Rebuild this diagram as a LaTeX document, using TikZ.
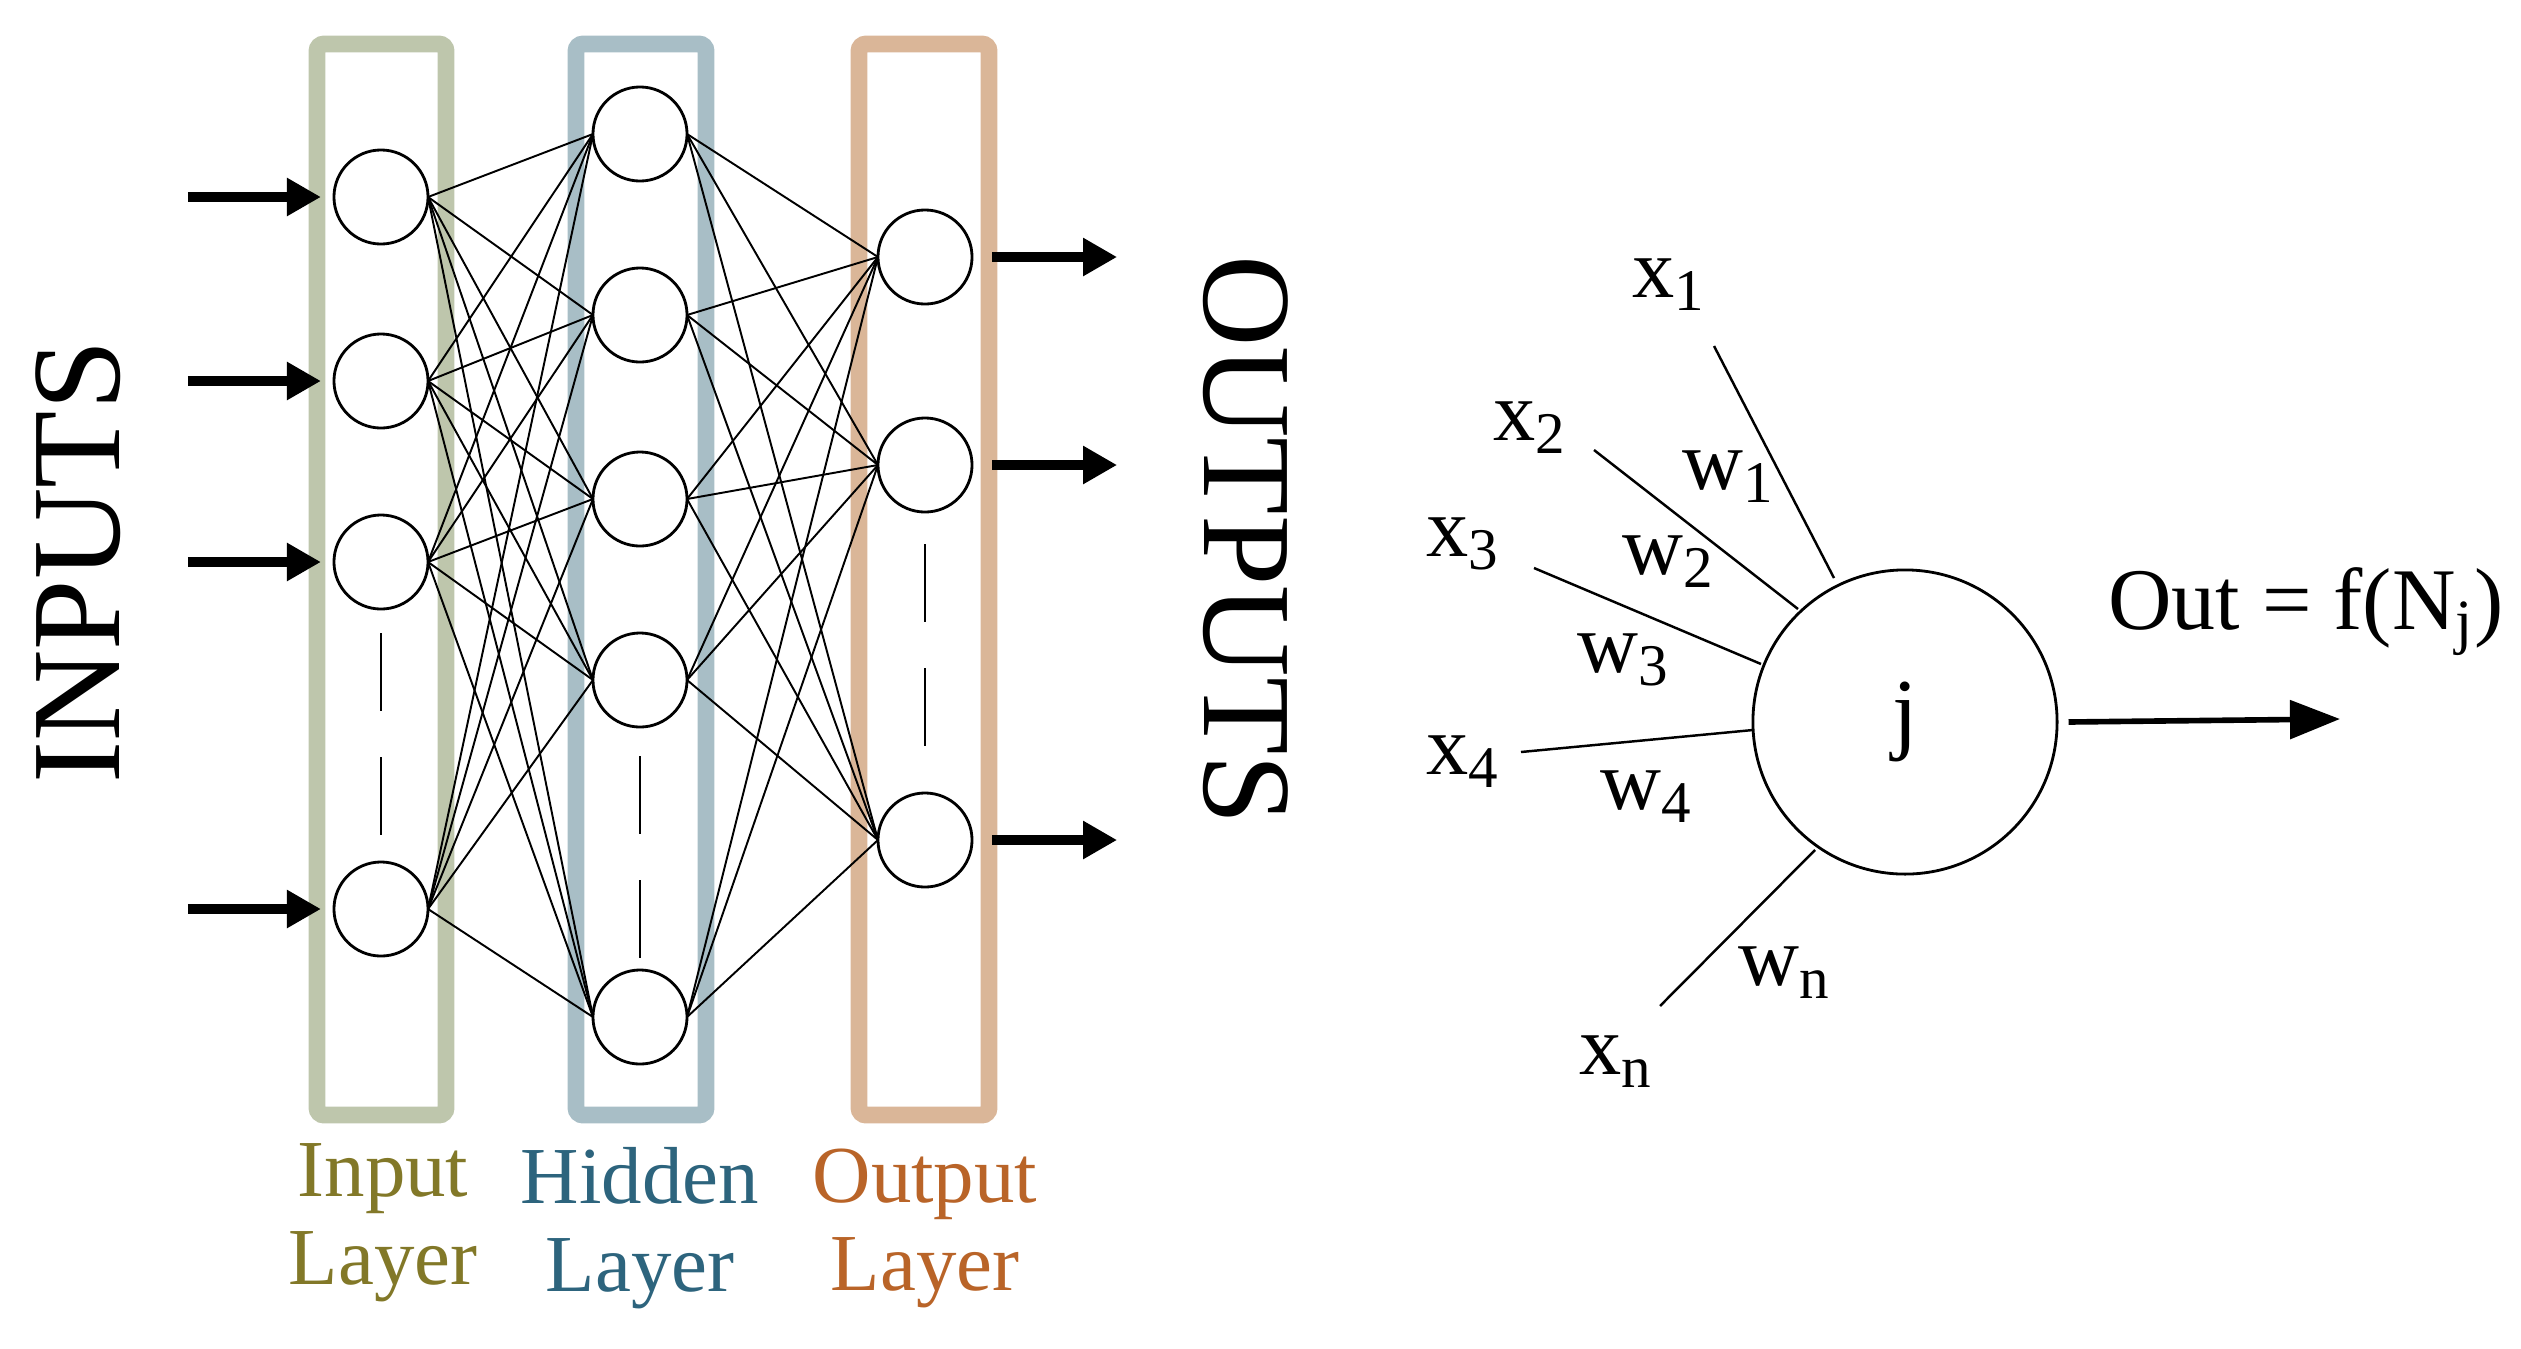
\documentclass[tikz,border=0pt]{standalone}
\usepackage{fontspec}
\setmainfont{Liberation Serif}
\usetikzlibrary{arrows.meta,shapes.geometric}
\definecolor{cin}{RGB}{190,198,172}
\definecolor{chid}{RGB}{168,190,198}
\definecolor{cout}{RGB}{218,182,152}
\definecolor{tin}{RGB}{130,120,40}
\definecolor{thid}{RGB}{45,100,125}
\definecolor{tout}{RGB}{185,100,40}
\begin{document}
\begin{tikzpicture}[x=0.01cm,y=-0.01cm,
  neuron/.style={circle,draw,line width=0.8pt,minimum size=0.94cm,inner sep=0pt,fill=white},
  layerbox/.style={line width=4.8pt,rounded corners=2pt},
  conn/.style={line width=0.55pt},
  bigarrow/.style={line width=2.6pt,-{Triangle[length=0.34cm,width=0.36cm]}},
  layerdash/.style={line width=0.8pt,dash pattern=on 0.78cm off 0.46cm},
  lbl/.style={font=\fontsize{23}{27}\selectfont,align=center},
  wl/.style={font=\fontsize{24}{28}\selectfont}]
\useasboundingbox (0,0) rectangle (2521,1348);
\draw[layerbox,cin] (317,44) rectangle (446,1115);
\draw[layerbox,chid] (576,44) rectangle (706,1115);
\draw[layerbox,cout] (859,44) rectangle (989,1115);
\draw[layerdash] (381,633) -- (381,835);
\draw[layerdash] (640,756) -- (640,970);
\draw[layerdash] (925,544) -- (925,767);
\foreach \i/\y in {1/197,2/381,3/562,4/909} \coordinate (ic\i) at (381,\y);
\foreach \i/\y in {1/134,2/315,3/499,4/680,5/1017} \coordinate (hc\i) at (640,\y);
\foreach \i/\y in {1/257,2/465,3/840} \coordinate (oc\i) at (925,\y);
\foreach \i in {1,...,4} \foreach \j in {1,...,5} \draw[conn] ([xshift=0.47cm]ic\i) -- ([xshift=-0.47cm]hc\j);
\foreach \i in {1,...,5} \foreach \j in {1,...,3} \draw[conn] ([xshift=0.47cm]hc\i) -- ([xshift=-0.47cm]oc\j);
\foreach \i in {1,...,4} {\node[neuron] (i\i) at (ic\i) {}; \coordinate (ia\i) at ([xshift=-1.93cm]ic\i);
  \draw[bigarrow] (ia\i) -- ([xshift=-0.6cm]ic\i);}
\foreach \i in {1,...,5} \node[neuron] (h\i) at (hc\i) {};
\foreach \i in {1,...,3} {\node[neuron] (o\i) at (oc\i) {}; \coordinate (oa\i) at ([xshift=1.92cm]oc\i);
  \draw[bigarrow] ([xshift=0.67cm]oc\i) -- (oa\i);}
\node[rotate=90,font=\fontsize{36}{40}\selectfont] (inp) at (78,562) {INPUTS};
\node[rotate=-90,font=\fontsize{36}{40}\selectfont] (outp) at (1246,540) {OUTPUTS};
\node[lbl,text=tin] (li) at (383,1223) {Input\\[-2pt]Layer};
\node[lbl,text=thid] (lh) at (640,1228) {Hidden\\[-2pt]Layer};
\node[lbl,text=tout] (lo) at (925,1228) {Output\\[-2pt]Layer};
% single neuron
\node[draw,circle,line width=0.8pt,minimum size=3.04cm,inner sep=0pt,font=\fontsize{26}{30}\selectfont] (j) at (1905,722) {j};
\coordinate (e1) at (1714,346); \coordinate (e2) at (1594,450); \coordinate (e3) at (1534,568);
\coordinate (e4) at (1521,752); \coordinate (en) at (1660,1006);
\coordinate (f1) at (1834,578); \coordinate (f2) at (1798,609); \coordinate (f3) at (1761,664);
\coordinate (f4) at (1753,730); \coordinate (fn) at (1815,850);
\foreach \k in {1,2,3,4,n} \draw[line width=0.7pt] (e\k) -- (f\k);
\node[wl] (x1) at (1669,285) {x$_{\mathrm{1}}$};
\node[wl] (x2) at (1530,428) {x$_{\mathrm{2}}$};
\node[wl] (x3) at (1463,544) {x$_{\mathrm{3}}$};
\node[wl] (x4) at (1463,762) {x$_{\mathrm{4}}$};
\node[wl] (xn) at (1616,1062) {x$_{\mathrm{n}}$};
\node[wl] (w1) at (1729,477) {w$_{\mathrm{1}}$};
\node[wl] (w2) at (1669,562) {w$_{\mathrm{2}}$};
\node[wl] (w3) at (1624,660) {w$_{\mathrm{3}}$};
\node[wl] (w4) at (1647,797) {w$_{\mathrm{4}}$};
\node[wl] (wn) at (1785,973) {w$_{\mathrm{n}}$};
\node[font=\fontsize{25}{30}\selectfont] (out) at (2306,612) {Out = f(N$_{\mathrm{j}}$)};
\coordinate (oend) at (2340,719);
\draw[line width=1.6pt,-{Triangle[length=0.5cm,width=0.38cm]}] ([xshift=0.1cm]j.east) -- (oend);
\end{tikzpicture}
\end{document}
